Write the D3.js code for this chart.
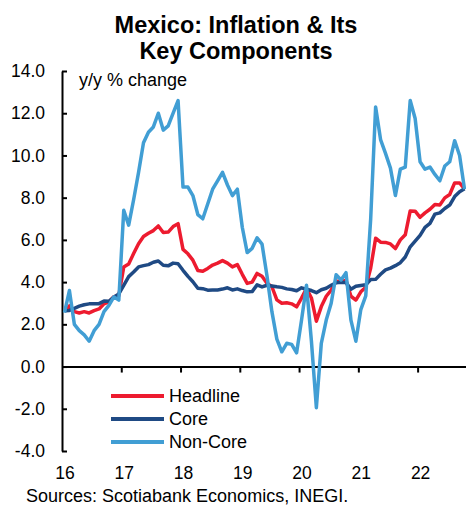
<!DOCTYPE html>
<html>
<head>
    <meta charset="utf-8">
    <title>Mexico: Inflation & Its Key Components</title>
    <script src="https://d3js.org/d3.v7.min.js"></script>
    <style>
        body, html {
            margin: 0;
            padding: 0;
            background: #fff;
        }
        text {
            font-family: Arial, 'Liberation Sans', sans-serif;
            fill: #000;
        }
    </style>
</head>
<body>
<script>
    // monthly data, Jan 2016 .. Oct 2022 (y/y % change)
    const yearLabels = ["16", "17", "18", "19", "20", "21", "22"];
    const seriesNames = ["Headline", "Core", "Non-Core"];
    const seriesColors = ["#ED1B2F", "#1F4A84", "#419ED4"];

    const headline = [
        2.61, 2.87, 2.60, 2.54, 2.60, 2.54, 2.65, 2.73, 2.97, 3.06, 3.31, 3.36,
        4.72, 4.86, 5.35, 5.82, 6.16, 6.31, 6.44, 6.66, 6.35, 6.37, 6.63, 6.77,
        5.55, 5.34, 5.04, 4.55, 4.51, 4.65, 4.81, 4.90, 5.02, 4.90, 4.72, 4.83,
        4.37, 3.94, 4.00, 4.41, 4.28, 3.95, 3.78, 3.16, 3.00, 3.02, 2.97, 2.83,
        3.24, 3.70, 3.25, 2.15, 2.84, 3.33, 3.62, 4.05, 4.01, 4.09, 3.33, 3.15,
        3.54, 3.76, 4.67, 6.08, 5.89, 5.88, 5.81, 5.59, 6.00, 6.24, 7.37, 7.36,
        7.07, 7.28, 7.45, 7.68, 7.65, 7.99, 8.15, 8.70, 8.70, 8.41
    ];
    const core = [
        2.64, 2.66, 2.76, 2.86, 2.93, 2.97, 2.97, 2.98, 3.10, 3.09, 3.29, 3.44,
        3.84, 4.26, 4.48, 4.72, 4.78, 4.83, 4.94, 5.00, 4.80, 4.77, 4.90, 4.87,
        4.56, 4.27, 4.02, 3.71, 3.69, 3.62, 3.63, 3.63, 3.67, 3.73, 3.63, 3.68,
        3.60, 3.54, 3.55, 3.87, 3.77, 3.85, 3.82, 3.78, 3.75, 3.68, 3.65, 3.59,
        3.73, 3.66, 3.60, 3.50, 3.64, 3.71, 3.85, 3.97, 3.99, 3.98, 3.66, 3.80,
        3.84, 3.87, 4.12, 4.13, 4.37, 4.58, 4.66, 4.78, 4.92, 5.19, 5.67, 5.94,
        6.21, 6.59, 6.78, 7.22, 7.28, 7.49, 7.65, 8.05, 8.28, 8.42
    ];
    const nonCore = [
        2.55, 3.6, 2.0, 1.7, 1.5, 1.2, 1.7, 2.0, 2.6, 2.9, 3.3, 3.15,
        7.4, 6.7, 7.9, 9.2, 10.6, 11.1, 11.35, 12.0, 11.2, 11.4, 12.0, 12.6,
        8.5, 8.5, 8.1, 7.2, 7.0, 7.7, 8.4, 8.8, 9.2, 8.6, 8.1, 8.4,
        6.6, 5.4, 5.6, 6.1, 5.8, 4.3, 2.6, 1.3, 0.7, 1.1, 1.05, 0.65,
        2.2, 3.85, 1.2, -1.95, 1.1, 2.2, 3.0, 4.35, 4.1, 4.45, 2.2, 1.2,
        2.7, 3.35, 7.0, 12.3, 10.75, 10.1, 9.4, 8.1, 9.35, 9.45, 12.6, 11.75,
        9.7, 9.35, 9.45, 9.1, 8.8, 9.5, 9.7, 10.7, 10.0, 8.4
    ];
    const yTicks = [-4, -2, 0, 2, 4, 6, 8, 10, 12, 14];

    const width = 466, height = 508;

    const svg = d3.select("body").append("svg")
        .attr("width", width)
        .attr("height", height);

    // month index scale, each month is one slot
    const x = d3.scaleLinear().domain([0, 82]).range([62, 467]);
    const y = d3.scaleLinear().domain([-4, 14]).range([451, 71]);

    // title
    svg.append("text")
        .attr("x", 236).attr("y", 32.5)
        .attr("text-anchor", "middle")
        .style("font-weight", "bold").style("font-size", "23.5px")
        .text("Mexico: Inflation & Its");
    svg.append("text")
        .attr("x", 236).attr("y", 58.5)
        .attr("text-anchor", "middle")
        .style("font-weight", "bold").style("font-size", "23.5px")
        .text("Key Components");

    // y axis, ticks point inward
    const yAxis = svg.append("g")
        .attr("transform", `translate(${x(0)},0)`)
        .call(d3.axisLeft(y)
            .tickValues(yTicks)
            .tickFormat(d => d.toFixed(1))
            .tickSizeInner(-5)
            .tickSizeOuter(0)
            .tickPadding(17));
    yAxis.select(".domain").attr("stroke", "#000").attr("stroke-width", 2);
    yAxis.selectAll(".tick line").attr("stroke", "#000").attr("stroke-width", 2);
    yAxis.selectAll(".tick text")
        .style("font-size", "17.5px")
        .attr("font-family", null);

    // x axis on the zero line
    const yearTicks = yearLabels.map((d, i) => i * 12);
    const xAxis = svg.append("g")
        .attr("transform", `translate(0,${y(0)})`)
        .call(d3.axisBottom(x)
            .tickValues(yearTicks.slice(1))
            .tickFormat("")
            .tickSizeInner(6)
            .tickSizeOuter(0));
    xAxis.select(".domain").attr("stroke", "#000").attr("stroke-width", 2);
    xAxis.selectAll(".tick line").attr("stroke", "#000").attr("stroke-width", 2);

    // year labels sit at the bottom of the chart
    svg.append("g").selectAll("text")
        .data(yearLabels)
        .join("text")
        .attr("x", (d, i) => x(yearTicks[i]) + 3)
        .attr("y", 479)
        .attr("text-anchor", "middle")
        .style("font-size", "17.5px")
        .text(d => d);

    svg.append("text")
        .attr("x", 79).attr("y", 85.5)
        .style("font-size", "18px")
        .text("y/y % change");

    // lines
    const series = [headline, core, nonCore];
    const line = d3.line()
        .x((d, i) => x(i + 0.5))
        .y(d => y(d));

    svg.append("g").selectAll("path")
        .data(series)
        .join("path")
        .attr("d", d => line(d))
        .attr("fill", "none")
        .attr("stroke", (d, i) => seriesColors[i])
        .attr("stroke-width", 3.5)
        .attr("stroke-linejoin", "round");

    // legend
    const legend = svg.append("g").selectAll("g")
        .data(seriesNames)
        .join("g")
        .attr("transform", (d, i) => `translate(0,${396 + i * 23})`);
    legend.append("line")
        .attr("x1", 111).attr("x2", 164)
        .attr("stroke", (d, i) => seriesColors[i])
        .attr("stroke-width", 4);
    legend.append("text")
        .attr("x", 169).attr("dy", "0.35em")
        .style("font-size", "18px")
        .text(d => d);

    svg.append("text")
        .attr("x", 26).attr("y", 502)
        .style("font-size", "18px")
        .text("Sources: Scotiabank Economics, INEGI.");
</script>
</body>
</html>
